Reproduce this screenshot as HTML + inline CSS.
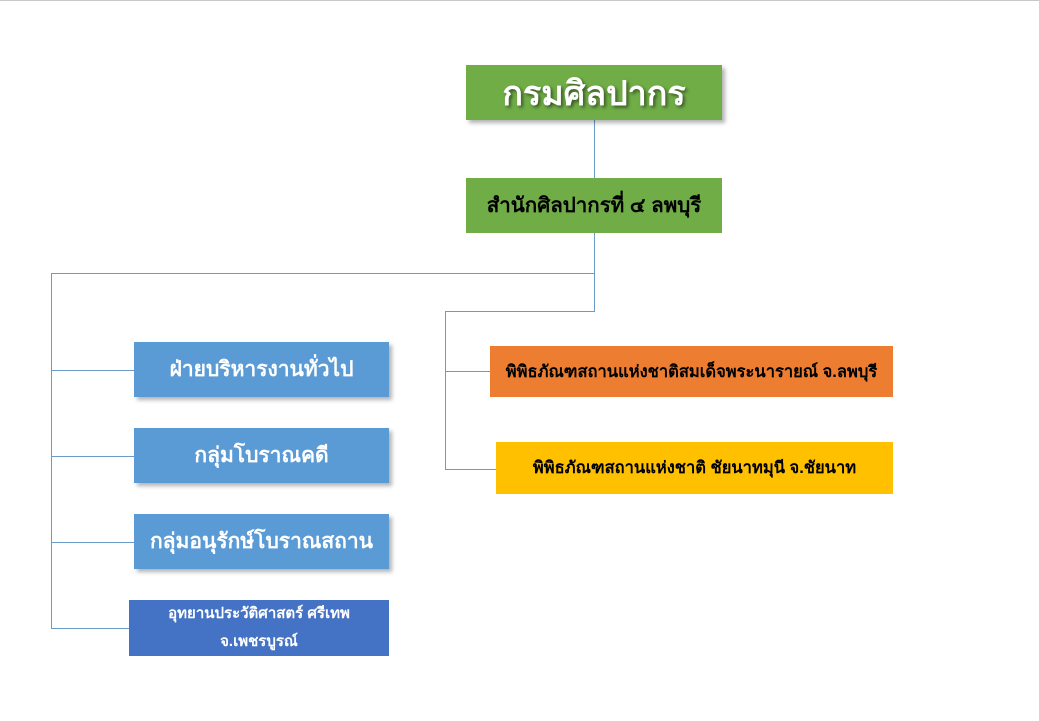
<!DOCTYPE html>
<html><head><meta charset="utf-8"><style>
body{margin:0;width:1039px;height:721px;background:#fff;position:relative;overflow:hidden;font-family:"Liberation Sans","DejaVu Sans",sans-serif;}
.b{position:absolute;display:flex;align-items:center;justify-content:center;text-align:center;font-weight:bold;box-sizing:border-box;}
.s{box-shadow:3px 3px 4px rgba(0,0,0,0.3);}
.l{position:absolute;background:#6a9bc9;}
.h{height:1px}.v{width:1px}
</style></head><body>
<div style="position:absolute;left:0;top:0;width:1039px;height:1px;background:#c8c8c8"></div>
<div class="l v" style="left:594px;top:120px;height:58px"></div>
<div class="l v" style="left:594px;top:233px;height:78px"></div>
<div class="l h" style="left:51px;top:273px;width:544px"></div>
<div class="l h" style="left:445px;top:311px;width:150px"></div>
<div class="l v" style="left:51px;top:273px;height:356px"></div>
<div class="l v" style="left:445px;top:311px;height:158px"></div>
<div class="l h" style="left:51px;top:370px;width:83px"></div>
<div class="l h" style="left:51px;top:456px;width:83px"></div>
<div class="l h" style="left:51px;top:542px;width:83px"></div>
<div class="l h" style="left:51px;top:628px;width:78px"></div>
<div class="l h" style="left:445px;top:371px;width:45px"></div>
<div class="l h" style="left:445px;top:469px;width:51px"></div>

<div class="b s" style="left:466px;top:65px;width:256px;height:55px;background:#70ad47;color:#fff;font-size:34px;text-shadow:2px 2px 3px rgba(0,0,0,0.5)">กรมศิลปากร</div>
<div class="b" style="left:466px;top:178px;width:256px;height:55px;background:#70ad47;color:#000;font-size:20.5px">สำนักศิลปากรที่ ๔ ลพบุรี</div>

<div class="b s" style="left:134px;top:342px;width:255px;height:55px;background:#5b9bd5;color:#fff;font-size:21px">ฝ่ายบริหารงานทั่วไป</div>
<div class="b s" style="left:134px;top:428px;width:255px;height:55px;background:#5b9bd5;color:#fff;font-size:21px">กลุ่มโบราณคดี</div>
<div class="b s" style="left:134px;top:514px;width:255px;height:55px;background:#5b9bd5;color:#fff;font-size:21px">กลุ่มอนุรักษ์โบราณสถาน</div>
<div class="b" style="left:129px;top:600px;width:260px;height:56px;background:#4472c4;color:#fff;font-size:15px;line-height:28px">อุทยานประวัติศาสตร์ ศรีเทพ<br>จ.เพชรบูรณ์</div>

<div class="b" style="left:490px;top:346px;width:403px;height:51px;background:#ed7d31;color:#000;font-size:16.5px">พิพิธภัณฑสถานแห่งชาติสมเด็จพระนารายณ์ จ.ลพบุรี</div>
<div class="b" style="left:496px;top:442px;width:397px;height:52px;background:#ffc000;color:#000;font-size:16.5px">พิพิธภัณฑสถานแห่งชาติ ชัยนาทมุนี จ.ชัยนาท</div>
</body></html>
